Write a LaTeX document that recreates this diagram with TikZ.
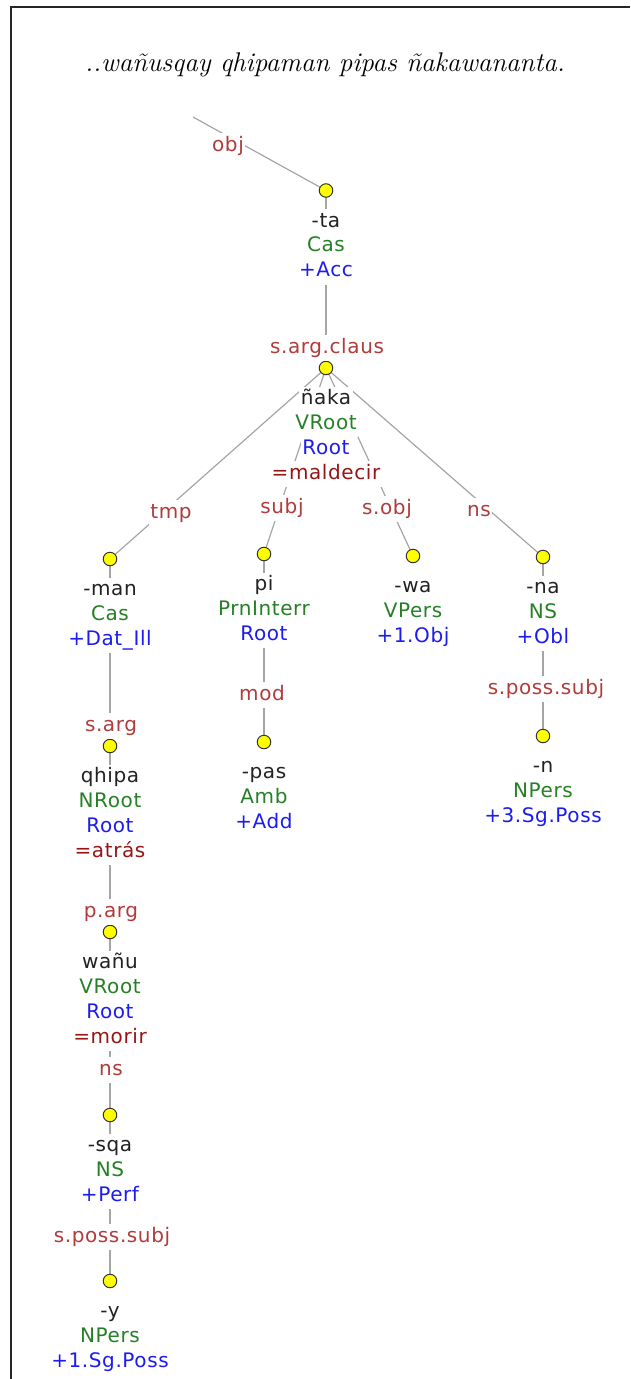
\documentclass[tikz,border=0pt]{standalone}
\usepackage{fontspec}
\newfontfamily\dvfont[LetterSpace=3]{DejaVu Sans}
\usetikzlibrary{backgrounds}
\definecolor{wordcol}{RGB}{34,34,34}
\definecolor{catcol}{RGB}{38,128,38}
\definecolor{tagcol}{RGB}{28,28,240}
\definecolor{glosscol}{RGB}{150,22,22}
\definecolor{depcol}{RGB}{176,60,60}
\definecolor{edgecol}{RGB}{165,165,165}
\definecolor{dotfill}{RGB}{255,255,0}
\newcommand{\mytok}[6]{%
  \node[tokdot] (#1) at (#2,#3) {};
  \node[rowst,text=wordcol] (#1-w) at (#2,#3+31.5) {#4};
  \node[rowst,text=catcol] (#1-c) at (#2,#3+56) {#5};
  \node[rowst,text=tagcol] (#1-t) at (#2,#3+81) {#6};
}
\newcommand{\mygloss}[4]{\node[rowst,text=glosscol] (#1-g) at (#2,#3+106) {#4};}
\begin{document}
\begin{tikzpicture}[x=1pt,y=-1pt,
  tokdot/.style={circle,draw=black!80,line width=1pt,fill=dotfill,minimum size=13.5pt,inner sep=0pt},
  rowst/.style={fill=white,inner xsep=1.5pt,inner ysep=3pt,text height=15pt,text depth=5pt,font=\dvfont\fontsize{20}{24}\selectfont},
  depst/.style={rowst,text=depcol},
  edgest/.style={draw=edgecol,line width=1.2pt},
  framest/.style={draw=black!85,line width=1.3pt}]
\useasboundingbox (0,0) rectangle (630,1379);
\draw[framest] (11,1379) -- (11,7) -- (630,7);
\node (title) at (325,65) {\fontsize{27}{32}\selectfont\itshape ..wañusqay qhipaman pipas ñakawananta.};
\coordinate (top) at (193,117);
% tokens
\mytok{ta}{326}{190.5}{-ta}{Cas}{+Acc}
\mytok{nk}{326}{368}{ñaka}{VRoot}{Root}
\mygloss{nk}{326}{368}{=maldecir}
\mytok{man}{110}{559}{-man}{Cas}{+Dat\_{}Ill}
\mytok{pi}{264}{554}{pi}{PrnInterr}{Root}
\mytok{wa}{413}{556}{-wa}{VPers}{+1.Obj}
\mytok{na}{543}{557}{-na}{NS}{+Obl}
\mytok{qh}{110}{746}{qhipa}{NRoot}{Root}
\mygloss{qh}{110}{746}{=atrás}
\mytok{pas}{264}{742}{-pas}{Amb}{+Add}
\mytok{n}{543}{736}{-n}{NPers}{+3.Sg.Poss}
\mytok{wn}{110}{932}{wañu}{VRoot}{Root}
\mygloss{wn}{110}{932}{=morir}
\mytok{sq}{110}{1115}{-sqa}{NS}{+Perf}
\mytok{yy}{110}{1281}{-y}{NPers}{+1.Sg.Poss}
% dependency labels
\node[depst] (l-obj) at (228,146) {obj};
\node[depst] (l-sac) at (327,348) {s.arg.claus};
\node[depst] (l-tmp) at (171,513) {tmp};
\node[depst] (l-subj) at (282,508) {subj};
\node[depst] (l-sobj) at (387,509) {s.obj};
\node[depst] (l-ns1) at (479,511) {ns};
\node[depst] (l-sarg) at (111,726) {s.arg};
\node[depst] (l-parg) at (111,912) {p.arg};
\node[depst] (l-ns2) at (111,1070) {ns};
\node[depst] (l-sps1) at (112,1237) {s.poss.subj};
\node[depst] (l-mod) at (262,695) {mod};
\node[depst] (l-sps2) at (546,689) {s.poss.subj};
\begin{scope}[on background layer]
\draw[edgest] (top) -- (ta.center);
\draw[edgest] (ta.center) -- (nk.center);
\draw[edgest] (nk.center) -- (man.center);
\draw[edgest] (nk.center) -- (pi.center);
\draw[edgest] (nk.center) -- (wa.center);
\draw[edgest] (nk.center) -- (na.center);
\draw[edgest] (man.center) -- (qh.center);
\draw[edgest] (qh.center) -- (wn.center);
\draw[edgest] (wn.center) -- (sq.center);
\draw[edgest] (sq.center) -- (yy.center);
\draw[edgest] (pi.center) -- (pas.center);
\draw[edgest] (na.center) -- (n.center);
\end{scope}
\end{tikzpicture}
\end{document}
